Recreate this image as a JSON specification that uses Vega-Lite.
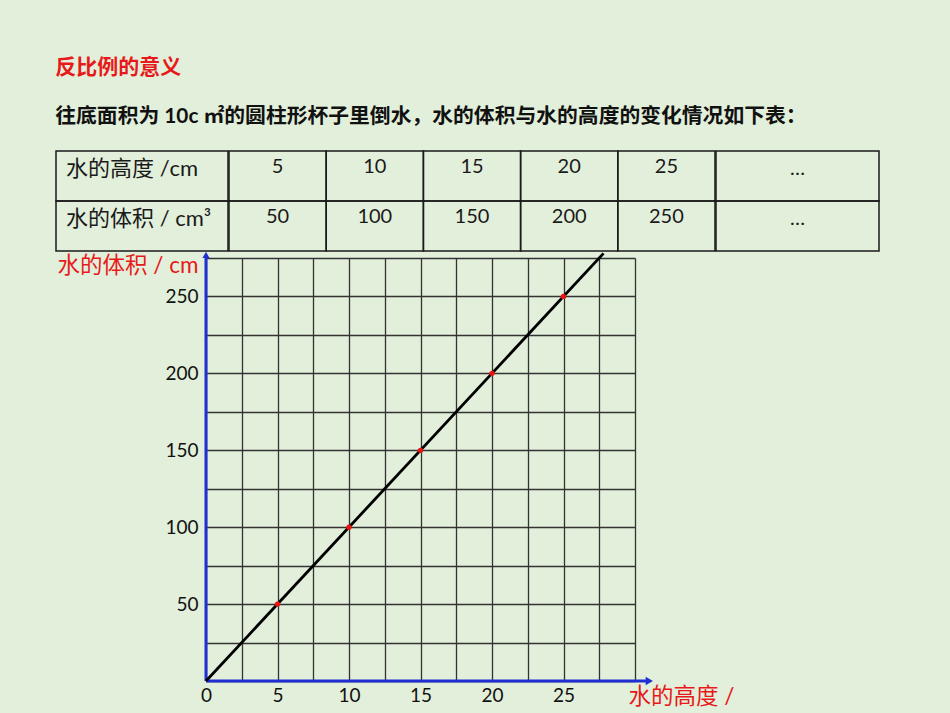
{
  "$schema": "https://vega.github.io/schema/vega-lite/v6.json",
  "background": "#e2efda",
  "padding": {"left": 55, "top": 57, "right": 80, "bottom": 12},
  "title": {
    "text": "反比例的意义",
    "subtitle": "往底面积为 10c ㎡的圆柱形杯子里倒水，水的体积与水的高度的变化情况如下表：",
    "anchor": "start",
    "fontSize": 21,
    "fontWeight": "bold",
    "color": "#e8191b",
    "subtitleFontSize": 20.8,
    "subtitleFontWeight": "bold",
    "subtitleColor": "#111111",
    "subtitlePadding": 29,
    "offset": 23
  },
  "datasets": {
    "table": [
      {"height": 5, "volume": 50},
      {"height": 10, "volume": 100},
      {"height": 15, "volume": 150},
      {"height": 20, "volume": 200},
      {"height": 25, "volume": 250}
    ]
  },
  "spacing": -3,
  "vconcat": [
    {
      "spacing": -1.5,
      "hconcat": [
        {
          "width": 172,
          "height": 100,
          "data": {"values": [{"col": "header", "height": "水的高度 /cm", "volume": "水的体积 / cm³"}]},
          "transform": [{"fold": ["height", "volume"], "as": ["row", "value"]}],
          "layer": [
            {
              "mark": {"type": "rect", "fillOpacity": 0, "stroke": "#1a1a1a", "strokeWidth": 1.5},
              "encoding": {
                "x": {"field": "col", "type": "nominal", "axis": null, "scale": {"paddingInner": 0, "paddingOuter": 0}},
                "y": {"field": "row", "type": "nominal", "sort": ["height", "volume"], "axis": null, "scale": {"paddingInner": 0, "paddingOuter": 0}}
              }
            },
            {
              "mark": {"type": "text", "align": "left", "baseline": "middle", "dx": 10, "fontSize": 22, "color": "#1a1a1a"},
              "encoding": {
                "x": {"field": "col", "type": "nominal", "bandPosition": 0},
                "y": {"field": "row", "type": "nominal", "sort": ["height", "volume"], "bandPosition": 0.36},
                "text": {"field": "value"}
              }
            }
          ]
        },
        {
          "width": 486,
          "height": 100,
          "data": {"name": "table"},
          "transform": [{"fold": ["height", "volume"], "as": ["row", "value"]}],
          "layer": [
            {
              "mark": {"type": "rect", "fillOpacity": 0, "stroke": "#1a1a1a", "strokeWidth": 1.5},
              "encoding": {
                "x": {"field": "height", "type": "ordinal", "sort": null, "axis": null, "scale": {"paddingInner": 0, "paddingOuter": 0}},
                "y": {"field": "row", "type": "nominal", "sort": ["height", "volume"], "axis": null, "scale": {"paddingInner": 0, "paddingOuter": 0}}
              }
            },
            {
              "mark": {"type": "text", "baseline": "middle", "fontSize": 20, "color": "#1a1a1a"},
              "encoding": {
                "x": {"field": "height", "type": "ordinal", "sort": null},
                "y": {"field": "row", "type": "nominal", "sort": ["height", "volume"], "bandPosition": 0.32},
                "text": {"field": "value"}
              }
            }
          ]
        },
        {
          "width": 163,
          "height": 100,
          "data": {"values": [{"col": "more", "height": "…", "volume": "…"}]},
          "transform": [{"fold": ["height", "volume"], "as": ["row", "value"]}],
          "layer": [
            {
              "mark": {"type": "rect", "fillOpacity": 0, "stroke": "#1a1a1a", "strokeWidth": 1.5},
              "encoding": {
                "x": {"field": "col", "type": "nominal", "axis": null, "scale": {"paddingInner": 0, "paddingOuter": 0}},
                "y": {"field": "row", "type": "nominal", "sort": ["height", "volume"], "axis": null, "scale": {"paddingInner": 0, "paddingOuter": 0}}
              }
            },
            {
              "mark": {"type": "text", "baseline": "middle", "fontSize": 20, "color": "#1a1a1a"},
              "encoding": {
                "x": {"field": "col", "type": "nominal"},
                "y": {"field": "row", "type": "nominal", "sort": ["height", "volume"], "bandPosition": 0.36},
                "text": {"field": "value"}
              }
            }
          ]
        }
      ]
    },
    {
      "spacing": 0,
      "hconcat": [
        {
          "width": 1,
          "height": 1,
          "data": {"values": [{}]},
          "mark": {"type": "text", "text": ""}
        },
        {
          "width": 429,
          "height": 423,
          "layer": [
            {
              "data": {"name": "table"},
              "mark": {"type": "point", "opacity": 0},
              "encoding": {
                "x": {
                  "field": "height",
                  "type": "quantitative",
                  "scale": {"domain": [0, 30], "nice": false},
                  "axis": {
                    "values": [0, 2.5, 5, 7.5, 10, 12.5, 15, 17.5, 20, 22.5, 25, 27.5, 30],
                    "tickCount": 40,
                    "labelExpr": "datum.value % 5 === 0 && datum.value < 30 ? datum.label : ''",
                    "grid": true,
                    "domain": false,
                    "ticks": false,
                    "labelFlush": false,
                    "labelOverlap": false,
                    "labelPadding": 5,
                    "title": "水的高度 /",
                    "titleX": 422,
                    "titleY": 15,
                    "titleAlign": "left",
                    "titleBaseline": "middle"
                  }
                },
                "y": {
                  "field": "volume",
                  "type": "quantitative",
                  "scale": {"domain": [0, 275], "nice": false},
                  "axis": {
                    "values": [0, 25, 50, 75, 100, 125, 150, 175, 200, 225, 250, 275],
                    "tickCount": 40,
                    "labelExpr": "datum.value % 50 === 0 && datum.value > 0 ? datum.label : ''",
                    "grid": true,
                    "domain": false,
                    "ticks": false,
                    "labelFlush": false,
                    "labelOverlap": false,
                    "labelPadding": 8,
                    "title": "水的体积 / cm",
                    "titleAngle": 0,
                    "titleX": -149,
                    "titleY": 7,
                    "titleAlign": "left",
                    "titleBaseline": "middle"
                  }
                }
              }
            },
            {
              "data": {"values": [{}]},
              "mark": {"type": "rule", "color": "#1f2fd3", "strokeWidth": 3, "clip": false},
              "encoding": {"x": {"datum": 0}, "y": {"datum": 0}, "x2": {"datum": 30.8}}
            },
            {
              "data": {"values": [{}]},
              "mark": {"type": "rule", "color": "#1f2fd3", "strokeWidth": 3, "clip": false},
              "encoding": {"x": {"datum": 0}, "y": {"datum": 0}, "y2": {"datum": 276}}
            },
            {
              "data": {"values": [{}]},
              "mark": {"type": "point", "shape": "triangle-right", "filled": true, "color": "#1f2fd3", "size": 70, "opacity": 1, "clip": false},
              "encoding": {"x": {"datum": 31}, "y": {"datum": 0}}
            },
            {
              "data": {"values": [{}]},
              "mark": {"type": "point", "shape": "triangle-up", "filled": true, "color": "#1f2fd3", "size": 50, "opacity": 1, "clip": false},
              "encoding": {"x": {"datum": 0}, "y": {"datum": 277}}
            },
            {
              "data": {"values": [{}]},
              "mark": {"type": "rule", "color": "#000000", "strokeWidth": 2.8, "clip": false},
              "encoding": {"x": {"datum": 0}, "y": {"datum": 0}, "x2": {"datum": 27.8}, "y2": {"datum": 278}}
            },
            {
              "data": {"name": "table"},
              "mark": {"type": "circle", "color": "#ee1111", "size": 28, "opacity": 1},
              "encoding": {
                "x": {"field": "height", "type": "quantitative"},
                "y": {"field": "volume", "type": "quantitative"}
              }
            }
          ]
        }
      ]
    }
  ],
  "config": {
    "font": "Lato, Noto Sans CJK SC",
    "view": {"stroke": null},
    "axis": {
      "gridColor": "#333333",
      "gridWidth": 1.3,
      "gridOpacity": 1,
      "labelFontSize": 19,
      "labelColor": "#111111",
      "titleFontSize": 22.5,
      "titleFontWeight": "normal",
      "titleColor": "#e8191b"
    }
  }
}
